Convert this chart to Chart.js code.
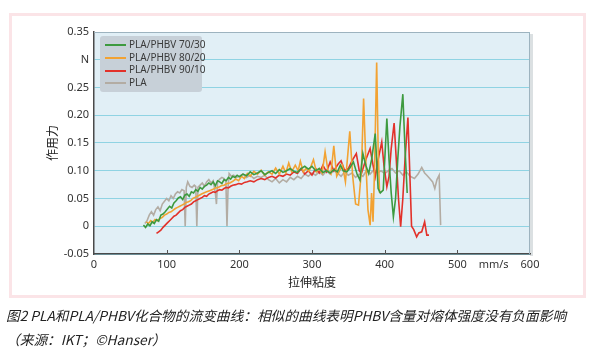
<!DOCTYPE html>
<html>
<head>
<meta charset="utf-8">
<script src="https://cdn.jsdelivr.net/npm/chart.js@4/dist/chart.umd.min.js"></script>
<style>
  html, body { margin: 0; padding: 0; background: #fff; }
  #wrap { position: relative; width: 599px; height: 354px; overflow: hidden; }
  #frame { position: absolute; left: 9px; top: 13px; width: 571px; height: 279px; border: 3px solid #fbe4e7; }
  #chart { position: absolute; left: 0; top: 0; }
  #legend { position: absolute; left: 100px; top: 36px; width: 102px; height: 56px; background: #c7d0d8;
            border-radius: 3px; font: 10px "Noto Sans", sans-serif; color: #3a3a3a; padding-top: 2px; box-sizing: border-box; }
  .item { height: 12.6px; line-height: 12.6px; white-space: nowrap; }
  .swatch { display: inline-block; width: 21px; height: 2px; vertical-align: middle; margin: 0 3px 0 5px; }
  #caption { position: absolute; left: 6px; top: 303px; font: italic 13.7px "Noto Sans CJK SC", sans-serif; color: #222; line-height: 24px; }
</style>
</head>
<body>
<div id="wrap">
  <div id="frame"></div>
  <canvas id="chart" width="599" height="354"></canvas>
  <div id="legend"></div>
  <div id="caption">图2 PLA和PLA/PHBV化合物的流变曲线：相似的曲线表明PHBV含量对熔体强度没有负面影响<br>（来源：IKT；©Hanser）</div>
</div>
<script>
// 系列名・色
const seriesNames = ["PLA/PHBV 70/30", "PLA/PHBV 80/20", "PLA/PHBV 90/10", "PLA"];
const seriesColors = ["#3d9a3f", "#f2a232", "#e2312a", "#b3aca3"];

// 目盛り
const xTickValues = [0, 100, 200, 300, 400, 500, 550, 600];
const xTickLabels = ["0", "100", "200", "300", "400", "500", "mm/s", "600"];
const yTickValues = [-0.05, 0, 0.05, 0.10, 0.15, 0.20, 0.25, 0.30, 0.35];
const yTickLabels = ["-0.05", "0", "0.05", "0.10", "0.15", "0.20", "0.25", "N", "0.35"];

// PLA/PHBV 70/30
const g7030X = [68,71,74,77,80,83,86,89,92,95,98,101,104,107,110,113,116,119,122,125,
  128,131,134,137,140,143,146,149,152,155,158,161,164,167,170,173,176,179,182,185,
  188,191,194,197,200,205,210,215,220,225,230,235,240,245,250,255,260,265,270,275,
  280,285,290,295,300,305,310,315,320,325,330,335,339,343,348,352,357,362,366,370,
  374,378,382,387,391,394,398,403,406,409,412,415,418,421,425,428,431];
const g7030Y = [0.002,-0.002,0.004,0.001,0.008,0.005,0.012,0.009,0.02,0.022,0.026,0.031,0.036,0.033,0.042,0.046,0.051,0.053,0.048,0.056,
  0.058,0.054,0.062,0.06,0.066,0.063,0.07,0.067,0.072,0.074,0.078,0.075,0.08,0.073,0.082,0.08,0.077,0.084,0.082,0.088,
  0.085,0.09,0.088,0.092,0.089,0.094,0.091,0.098,0.093,0.096,0.1,0.093,0.097,0.1,0.095,0.102,0.097,0.1,0.104,0.099,
  0.097,0.104,0.108,0.103,0.108,0.1,0.104,0.097,0.1,0.096,0.102,0.098,0.11,0.1,0.098,0.105,0.116,0.094,0.083,0.131,
  0.11,0.095,0.12,0.167,0.068,0.06,0.065,0.194,0.12,0.06,0.017,0.05,0.12,0.18,0.238,0.14,0.06];

// PLA/PHBV 80/20
const g8020X = [72,75,78,81,84,87,91,94,97,100,103,106,109,112,115,118,121,124,127,130,
  133,136,139,142,145,148,151,155,159,163,167,171,175,179,183,187,191,195,199,203,
  207,211,215,220,225,230,235,240,245,250,255,260,264,268,272,277,281,284,288,292,
  296,302,306,310,314,318,322,326,330,334,338,342,346,352,356,360,364,368,371,374,
  377,380,382,384,386,389,391,393];
const g8020Y = [0.008,0.005,0.01,0.007,0.012,0.01,0.014,0.016,0.02,0.022,0.025,0.026,0.029,0.032,0.034,0.036,0.038,0.04,0.043,0.044,
  0.046,0.05,0.052,0.054,0.056,0.058,0.06,0.062,0.064,0.066,0.069,0.07,0.073,0.074,0.077,0.078,0.081,0.085,0.082,0.09,
  0.086,0.095,0.09,0.099,0.094,0.101,0.092,0.098,0.094,0.105,0.094,0.108,0.096,0.114,0.098,0.11,0.1,0.117,0.098,0.104,
  0.099,0.12,0.098,0.104,0.096,0.134,0.1,0.094,0.145,0.09,0.1,0.11,0.08,0.171,0.09,0.04,0.038,0.1,0.23,0.12,
  0.03,0.002,0.06,0.008,0.1,0.295,0.14,0.06];

// PLA/PHBV 90/10
const g9010X = [86,89,92,95,98,101,104,107,110,113,116,119,122,125,128,131,134,137,140,143,
  146,149,152,155,158,161,164,167,170,173,176,179,182,185,188,191,195,199,203,207,
  211,215,220,225,230,235,240,245,250,255,260,265,270,275,280,285,290,295,300,305,
  310,315,320,325,330,336,340,345,350,355,361,365,368,374,380,384,387,391,396,399,
  403,406,409,413,416,419,422,425,428,432,435,437,440,444,447,451,455,458,461];
const g9010Y = [-0.013,-0.01,-0.007,-0.002,0.002,0.006,0.01,0.014,0.018,0.02,0.024,0.028,0.03,0.034,0.036,0.038,0.04,0.044,0.046,0.048,
  0.05,0.052,0.055,0.054,0.058,0.06,0.062,0.061,0.064,0.066,0.065,0.068,0.07,0.069,0.072,0.074,0.075,0.077,0.076,0.079,
  0.08,0.082,0.08,0.084,0.086,0.084,0.088,0.09,0.087,0.092,0.09,0.094,0.092,0.098,0.095,0.104,0.094,0.1,0.092,0.104,
  0.096,0.11,0.098,0.116,0.1,0.112,0.118,0.1,0.104,0.118,0.131,0.1,0.095,0.12,0.14,0.11,0.089,0.12,0.152,0.11,
  0.071,0.09,0.14,0.186,0.12,0.05,-0.001,0.05,0.12,0.196,0.08,0,-0.006,-0.019,-0.012,-0.01,0.008,-0.016,-0.016];

// PLA
const plaX = [70,73,76,79,82,85,88,91,94,97,100,103,106,109,112,115,118,121,124,125.5,
  127,129,132,135,138,140,141.5,143,146,149,152,155,158,161,164,167,168.5,170,173,176,
  179,181.5,183,184.5,186,189,192,196,200,205,210,215,220,225,230,235,240,245,250,255,
  260,265,270,275,280,285,290,295,300,305,310,315,320,325,330,335,340,345,350,355,
  360,365,370,375,380,385,390,395,400,405,410,415,420,425,430,435,441,446,451,455,
  458,462,466,469,472,475,477];
const plaY = [0.005,0.01,0.02,0.026,0.02,0.03,0.035,0.028,0.04,0.045,0.05,0.046,0.055,0.05,0.058,0.062,0.06,0.066,0.064,0,
  0.07,0.08,0.072,0.07,0.074,0.072,0,0.07,0.074,0.078,0.072,0.08,0.084,0.078,0.082,0.06,0.04,0.08,0.085,0.088,
  0.086,0.08,0,0.07,0.095,0.09,0.092,0.088,0.09,0.094,0.088,0.092,0.086,0.09,0.088,0.092,0.084,0.08,0.086,0.078,
  0.084,0.08,0.088,0.084,0.09,0.086,0.094,0.09,0.096,0.092,0.098,0.092,0.1,0.094,0.1,0.096,0.09,0.098,0.092,0.096,
  0.088,0.094,0.09,0.1,0.094,0.102,0.096,0.1,0.095,0.1,0.104,0.096,0.1,0.092,0.098,0.09,0.086,0.094,0.106,0.096,
  0.092,0.086,0.08,0.068,0.084,0.092,0.002];

const seriesX = [g7030X, g8020X, g9010X, plaX];
const seriesY = [g7030Y, g8020Y, g9010Y, plaY];

// プロット背景と枠
const plotFrame = {
  id: "plotFrame",
  beforeDraw(chart) {
    const { ctx, chartArea: { left, top, right, bottom } } = chart;
    ctx.save();
    ctx.fillStyle = "rgba(110,130,140,0.25)";
    ctx.fillRect(right, top + 2, 3, bottom - top);
    ctx.fillStyle = "#e1eff6";
    ctx.fillRect(left, top, right - left, bottom - top);
    ctx.restore();
  },
  afterDraw(chart) {
    const { ctx, chartArea: { left, top, right, bottom } } = chart;
    const xs = chart.scales.x;
    ctx.save();
    ctx.strokeStyle = "#9db3bf";
    ctx.lineWidth = 1;
    ctx.beginPath();
    ctx.moveTo(left, top + 0.5);
    ctx.lineTo(right - 0.5, top + 0.5);
    ctx.lineTo(right - 0.5, bottom);
    ctx.stroke();
    // 小さい目盛り
    ctx.strokeStyle = "#555";
    [100, 200, 300, 400, 500].forEach(v => {
      const px = Math.round(xs.getPixelForValue(v)) + 0.5;
      ctx.beginPath();
      ctx.moveTo(px, bottom - 4);
      ctx.lineTo(px, bottom);
      ctx.stroke();
    });
    ctx.restore();
  }
};

const datasets = seriesNames.map((name, i) => ({
  label: name,
  data: seriesX[i].map((x, j) => ({ x: x, y: seriesY[i][j] })),
  borderColor: seriesColors[i],
  backgroundColor: seriesColors[i],
  borderWidth: 1.6,
  pointRadius: 0,
  showLine: true,
  tension: 0
}));

new Chart(document.getElementById("chart"), {
  type: "scatter",
  data: { datasets: datasets },
  options: {
    responsive: false,
    animation: false,
    devicePixelRatio: 1,
    layout: { padding: { left: 0, top: 32, right: 69, bottom: 54 } },
    plugins: { legend: { display: false }, tooltip: { enabled: false } },
    scales: {
      x: {
        type: "linear",
        min: 0,
        max: 600,
        afterBuildTicks: s => { s.ticks = xTickValues.map(v => ({ value: v })); },
        afterFit: s => { s.height = 46; },
        grid: { display: false, drawTicks: false },
        border: { color: "#4a4a4a", width: 1.5 },
        ticks: {
          autoSkip: false,
          maxRotation: 0,
          padding: 4,
          color: "#333",
          font: { family: "Noto Sans", size: 11 },
          callback: (v, i) => xTickLabels[i]
        },
        title: {
          display: true,
          text: "拉伸粘度",
          color: "#222",
          font: { family: "Noto Sans CJK SC", size: 12 },
          padding: { top: 0, bottom: 10 }
        }
      },
      y: {
        min: -0.05,
        max: 0.35,
        afterBuildTicks: s => { s.ticks = yTickValues.map(v => ({ value: v })); },
        afterFit: s => { s.width = 94; },
        grid: { color: "#8fd3e3", lineWidth: 1, drawTicks: false },
        border: { color: "#4a4a4a", width: 1.5 },
        ticks: {
          padding: 5,
          color: "#333",
          font: { family: "Noto Sans", size: 11 },
          callback: (v, i) => yTickLabels[i]
        },
        title: {
          display: true,
          text: "作用力",
          color: "#222",
          font: { family: "Noto Sans CJK SC", size: 12 },
          padding: { top: 45, bottom: 0 }
        }
      }
    }
  },
  plugins: [plotFrame]
});

// 凡例
const legend = document.getElementById("legend");
seriesNames.forEach((name, i) => {
  const div = document.createElement("div");
  div.className = "item";
  div.innerHTML = `<span class="swatch" style="background-color:${seriesColors[i]}"></span>${name}`;
  legend.appendChild(div);
});
</script>
</body>
</html>
